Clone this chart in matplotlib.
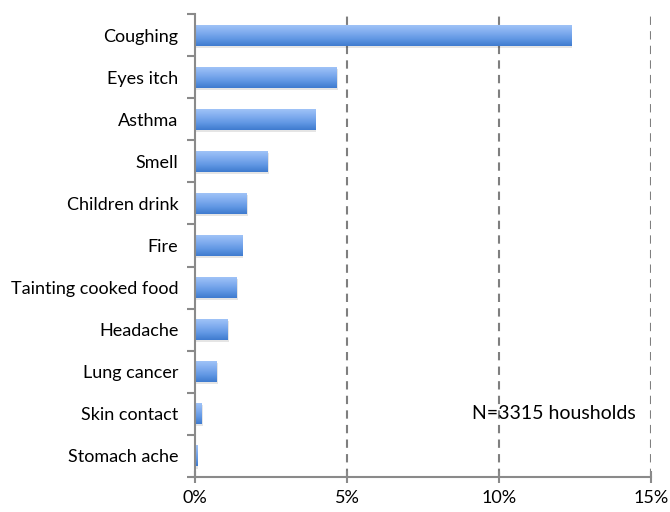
import numpy as np
import matplotlib
matplotlib.use("Agg")
import matplotlib.pyplot as plt
from matplotlib.colors import LinearSegmentedColormap

categories = ["Coughing", "Eyes itch", "Asthma", "Smell", "Children drink", "Fire",
              "Tainting cooked food", "Headache", "Lung cancer", "Skin contact", "Stomach ache"]
values = [12.37, 4.67, 3.95, 2.40, 1.70, 1.55, 1.38, 1.08, 0.72, 0.23, 0.07]
xticks = [0, 5, 10, 15]
xticklabels = ["0%", "5%", "10%", "15%"]

plt.rcParams['font.family'] = ['Lato', 'DejaVu Sans']

fig = plt.figure(figsize=(6.7, 5.12), dpi=100)
ax = fig.add_axes([195/670, 1-477/512, (651-195)/670, (477-14)/512])

y = np.arange(len(categories))
h = 0.5
cmap = LinearSegmentedColormap.from_list("g", ["#a3c6f8", "#84aff0", "#6298e4", "#3f7bcf"])
grad = np.linspace(0, 1, 64).reshape(-1, 1)

# shadow
ax.barh(y + 0.05, values, height=h, left=0.04, color="#000000", alpha=0.10, zorder=2, linewidth=0)
bars = ax.barh(y, values, height=h, color="none", linewidth=0, zorder=3)
for b in bars:
    x0, yb = b.get_x(), b.get_y()
    w, hh = b.get_width(), b.get_height()
    im = ax.imshow(grad, extent=[x0, x0 + w, yb + hh, yb], cmap=cmap, aspect="auto",
                   zorder=3, origin="upper", interpolation="bilinear")
    im.set_clip_path(b)

ax.set_xlim(0, 15)
ax.set_ylim(len(categories) - 0.5, -0.5)

for gx in [5, 10, 15]:
    ax.axvline(gx, color="#7f7f7f", linestyle=(0, (4, 3)), linewidth=1.5, zorder=1)

for s in ["top", "right"]:
    ax.spines[s].set_visible(False)
for s in ["left", "bottom"]:
    ax.spines[s].set_color("#8a8a8a")
    ax.spines[s].set_linewidth(1.5)
    ax.spines[s].set_zorder(4)

ax.set_xticks(xticks)
ax.set_xticklabels(xticklabels, fontsize=13)
ax.tick_params(axis="x", direction="inout", length=9, width=1.5, color="#8a8a8a", pad=5)

ax.set_yticks(np.arange(len(categories) + 1) - 0.5)
ax.set_yticklabels([])
ax.tick_params(axis="y", which="major", direction="out", length=6, width=1.5, color="#8a8a8a")
ax.set_yticks(y, minor=True)
ax.set_yticklabels(categories, minor=True, fontsize=13)
ax.tick_params(axis="y", which="minor", length=0, pad=12)

ax.text(9.1, 9, "N=3315 housholds", fontsize=14, va="center", ha="left")

fig.savefig("out.png", dpi=100)
